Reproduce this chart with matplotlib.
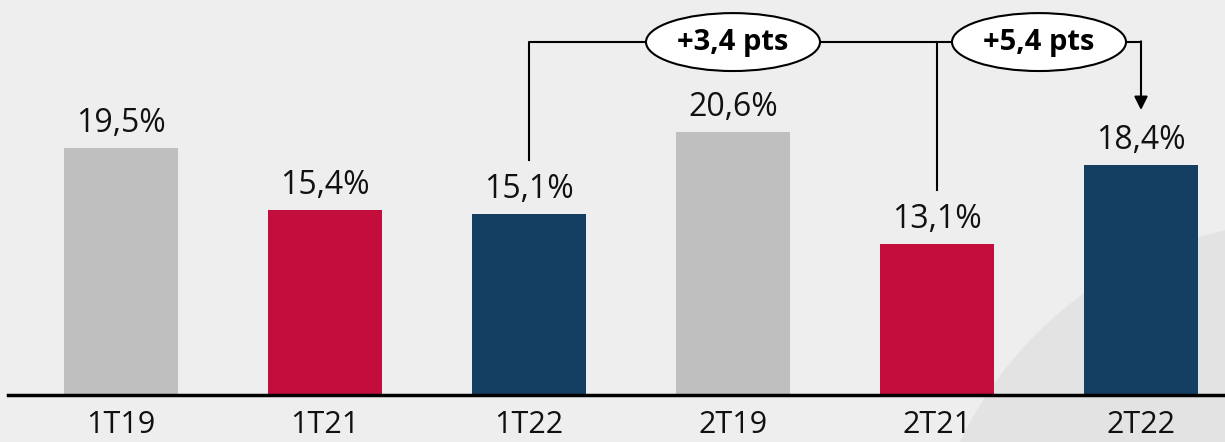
import matplotlib
matplotlib.use("Agg")
import matplotlib.pyplot as plt
from matplotlib.patches import Ellipse, Circle

categories = ["1T19", "1T21", "1T22", "2T19", "2T21", "2T22"]
values = [19.5, 15.4, 15.1, 20.6, 13.1, 18.4]
labels = ["19,5%", "15,4%", "15,1%", "20,6%", "13,1%", "18,4%"]
colors = ["#BFBFBF", "#C30D3C", "#153F62", "#BFBFBF", "#C30D3C", "#153F62"]
diff_labels = ["+3,4 pts", "+5,4 pts"]

plt.rcParams['font.family'] = ['Open Sans', 'DejaVu Sans']

W, H = 1225, 442
fig = plt.figure(figsize=(W / 100, H / 100), dpi=100)
fig.patch.set_facecolor("#EEEEEE")

# background decorative curve
bg = fig.add_axes([0, 0, 1, 1])
bg.set_xlim(0, W); bg.set_ylim(H, 0); bg.axis("off")
bg.add_patch(Circle((1309, 607), 386, facecolor="#E3E3E3", edgecolor="none"))

ax = fig.add_axes([0, (H - 395) / H, 1, 395 / H])
ax.patch.set_alpha(0)
x = list(range(len(categories)))
ax.bar(x, values, width=0.56, color=colors, zorder=2)
ax.set_xlim(-121 / 204, (W - 121) / 204)
ax.set_ylim(3.03, 29.42)

for xi, v, lab in zip(x, values, labels):
    ax.annotate(lab, (xi, v), xytext=(0, 6), textcoords="offset points",
                ha="center", va="bottom", fontsize=23, color="#111111")

for s in ["top", "right", "left", "bottom"]:
    ax.spines[s].set_visible(False)
ax.axhline(3.03, xmin=8 / W, xmax=1, color="black", lw=2.5, clip_on=False, zorder=3)
ax.set_yticks([])
ax.set_xticks(x)
ax.set_xticklabels(categories, fontsize=22, color="#111111")
ax.tick_params(axis="x", length=0, pad=10.5)

# bracket annotations
yl = 26.61
ax.plot([2, 2, 5], [18.73, yl, yl], color="black", lw=1.5, zorder=3)
ax.plot([4, 4], [16.72, yl], color="black", lw=1.5, zorder=3)
ax.annotate("", xy=(5, 22.07), xytext=(5, yl + 0.05),
            arrowprops=dict(arrowstyle="-|>", color="black", lw=1.5,
                            mutation_scale=20, shrinkA=0, shrinkB=0), zorder=3)

for cx, txt in zip([3.0, 4.5], diff_labels):
    ax.add_patch(Ellipse((cx, yl), 0.853, 3.87, facecolor="white",
                         edgecolor="black", lw=1.5, zorder=4))
    ax.text(cx, yl, txt, ha="center", va="center", fontsize=21,
            fontweight="bold", color="black", zorder=5)

fig.savefig("out.png", dpi=100, facecolor=fig.get_facecolor())
